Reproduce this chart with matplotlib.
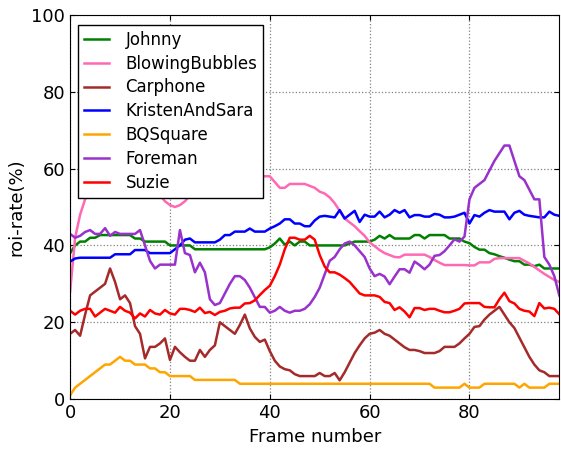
import numpy as np
import matplotlib
matplotlib.use('Agg')
import matplotlib.pyplot as plt

# roi-rate per frame for each test sequence
johnny = [38, 40, 41, 41, 42, 42, 42.7, 42.7, 42.7, 42.7,
          42.7, 42.7, 42.7, 41.8, 41.8, 41, 41, 41, 41, 41,
          40, 40, 40, 40, 40, 39, 39, 39, 39, 39,
          39, 39, 39, 39, 39, 39, 39, 39, 39, 39,
          39.5, 40.5, 41.8, 40.2, 41, 40, 41, 41, 40, 40,
          40, 40, 40, 40, 40, 40, 40.5, 41, 41, 41,
          41, 41.5, 42.5, 41.8, 42.7, 41.8, 41.8, 41.8, 41.8, 42.7,
          42.7, 41.8, 42.7, 42.7, 42.7, 42.7, 41.8, 41.8, 41.8, 41,
          40.6, 39.6, 38.9, 38.9, 38, 37.7, 37.2, 36.8, 36.3, 35.9,
          35.9, 35, 35, 34.6, 35, 34, 34, 34, 34]
blowing_bubbles = [28, 42, 48, 52, 54, 56, 57, 57, 58, 58,
                   58, 58, 58, 57, 57, 56, 55, 54, 53, 51.5,
                   50.5, 50, 50.5, 51.5, 53, 55, 56, 57, 57, 58,
                   58, 58, 58, 58, 58, 58, 58, 58, 58, 58,
                   58, 56.5, 55, 55, 56, 56, 56, 56, 55.5, 55,
                   54, 53.5, 52.5, 51, 49, 47, 46, 45, 43.7, 42.5,
                   40.8, 39.8, 38.8, 38, 37.5, 37, 36.9, 37.6, 37.6, 37.6,
                   37.6, 37.6, 37, 36.2, 35.5, 34.9, 34.9, 34.9, 34.9, 34.9,
                   34.8, 34.8, 35.6, 35.6, 35.6, 36.5, 36.7, 36.7, 36.7, 36.7,
                   36.7, 36, 35.3, 34.4, 33.5, 32.6, 31.8, 31, 30.5]
carphone = [17, 18, 16.5, 22, 27, 28, 29, 30, 34, 30.5,
            26, 27, 25, 19, 17, 10.6, 13.6, 13.6, 14.5, 15.8,
            10.2, 13.6, 12.2, 11, 10, 10, 12.8, 11, 12.8, 14,
            20, 19, 18, 17, 19.3, 22, 18.4, 16.2, 14.9, 15.5,
            12.5, 10, 8.5, 7.8, 7.5, 6.5, 6, 6, 6, 6,
            6.8, 6, 6, 6.8, 4.9, 7, 9.5, 12, 14, 15.8,
            17, 17.3, 18, 17, 16.5, 15.5, 14.5, 13.5, 12.8, 12.8,
            12.5, 12, 12, 12, 12.5, 13.6, 13.6, 13.6, 14.5, 15.8,
            17, 18.8, 19, 20.7, 22, 23, 24, 22, 20, 18.5,
            16, 13.5, 11, 9, 7.5, 7, 6, 6, 6]
kristen_and_sara = [35.8, 36.6, 36.8, 36.8, 36.8, 36.8, 36.8, 36.8, 36.8, 37.7,
                    37.7, 37.7, 37.7, 38.8, 38.8, 38.8, 38, 38, 38, 38,
                    38, 39, 40, 41.5, 41.8, 40.8, 40.8, 40.8, 40.8, 40.8,
                    41.5, 42.7, 42.7, 43.6, 43.6, 43.6, 44.4, 43.6, 43.6, 43.6,
                    44.4, 45, 45.7, 46.8, 46.8, 45.7, 45.7, 45, 45, 46.5,
                    47.5, 47.7, 47.5, 47.3, 49.2, 47, 48, 49, 46.1, 48,
                    47.5, 47.5, 48.8, 47.3, 48, 49.2, 48.5, 49.2, 47.3, 47.9,
                    47.9, 47.5, 47.5, 48.2, 48, 47.3, 47.3, 47.5, 48, 48.5,
                    45.7, 47.9, 47.5, 48.5, 49.2, 48.8, 48.8, 48.8, 46.8, 48.5,
                    49, 48, 47.7, 47.5, 47.3, 47.3, 48.8, 48, 47.7]
bq_square = ([1, 3, 4, 5, 6, 7, 8, 9, 9, 10,
              11, 10, 10, 9, 9, 9, 8, 8, 7, 7,
              6, 6, 6, 6, 6, 5] + [5] * 8 + [4] * 39 + [3] * 6 + [4]
             + [3] * 3 + [4] * 7 + [3, 4] + [3] * 4 + [4] * 3)
foreman = [43, 42, 42.5, 43.5, 44, 43, 43, 44.5, 42.5, 43.5,
           43, 43, 43, 43, 44, 40, 36, 34, 35, 35,
           35, 35, 44, 38, 37.5, 33, 35.5, 33, 26, 24.5,
           25, 27.5, 30, 32, 32, 31, 29, 26.5, 24, 24,
           22.5, 23, 24, 23, 22.5, 23, 23, 23.5, 24.7, 26.6,
           29, 32.5, 36, 37, 39, 40.5, 41, 40, 38.5, 37,
           34, 32, 32.6, 31.9, 29.9, 31.9, 33.8, 33.8, 32.9, 35.8,
           34.9, 33.8, 35, 37.3, 37.5, 38.5, 40, 41.6, 41, 42.3,
           52, 55, 56, 57, 59.5, 62, 64, 66, 66, 62,
           58, 57, 54.5, 52, 52, 37, 35, 32, 27]
suzie = [23, 22, 23, 23.5, 23.5, 21.5, 22.5, 23.5, 23, 22.5,
         24, 23, 22.5, 21, 22.3, 21.5, 23.2, 22.3, 22, 23.2,
         22.3, 22, 23.5, 23.5, 23.2, 22.7, 23.8, 22.4, 22.7, 21.9,
         22.7, 23, 23.6, 23.8, 23.8, 24.9, 25, 25.7, 27.1, 28.4,
         29.5, 32, 35, 39, 42, 42, 41.5, 41.5, 42.5, 41.5,
         37.5, 34.5, 33, 33, 32.4, 31.5, 30.5, 29, 27.5, 27,
         27, 27, 26.6, 25.3, 25, 23.2, 23.9, 22.8, 21.3, 23.7,
         23.7, 23.2, 23.5, 23.5, 23, 22.6, 22.6, 23, 23.5, 24.9,
         25, 25, 25, 24, 23.9, 23.9, 26, 27.7, 25.5, 24.9,
         23.5, 23, 22.8, 21.6, 25, 23.6, 23.8, 23.5, 22.1]

names = ['Johnny', 'BlowingBubbles', 'Carphone', 'KristenAndSara',
         'BQSquare', 'Foreman', 'Suzie']
colors = ['green', 'hotpink', 'brown', 'blue', 'orange', 'darkorchid', 'red']
series = [johnny, blowing_bubbles, carphone, kristen_and_sara,
          bq_square, foreman, suzie]

fig = plt.figure(figsize=(5.61, 4.51), dpi=100)
ax = fig.add_subplot(111)
fig.subplots_adjust(left=0.125, right=0.997, top=0.967, bottom=0.115)

for name, col, vals in zip(names, colors, series):
    frames = np.arange(len(vals))
    ax.plot(frames, vals, color=col, linewidth=1.8, label=name)

ax.set_xlim(0, 98)
ax.set_ylim(0, 100)
ax.set_xticks([0, 20, 40, 60, 80])
ax.set_yticks([0, 20, 40, 60, 80, 100])
ax.tick_params(direction='in', top=True, right=True, labelsize=13)
ax.grid(True, linestyle=':', color='0.5', linewidth=0.9)
ax.set_xlabel('Frame number', fontsize=13)
ax.set_ylabel('roi-rate(%)', fontsize=13)

leg = ax.legend(loc='upper left', bbox_to_anchor=(0.016, 0.974),
                borderaxespad=0, fontsize=12, fancybox=False,
                handlelength=1.5, handletextpad=1.0, labelspacing=0.35,
                borderpad=0.35)
leg.get_frame().set_edgecolor('black')
leg.get_frame().set_alpha(1)

fig.savefig('out.png', dpi=100)
